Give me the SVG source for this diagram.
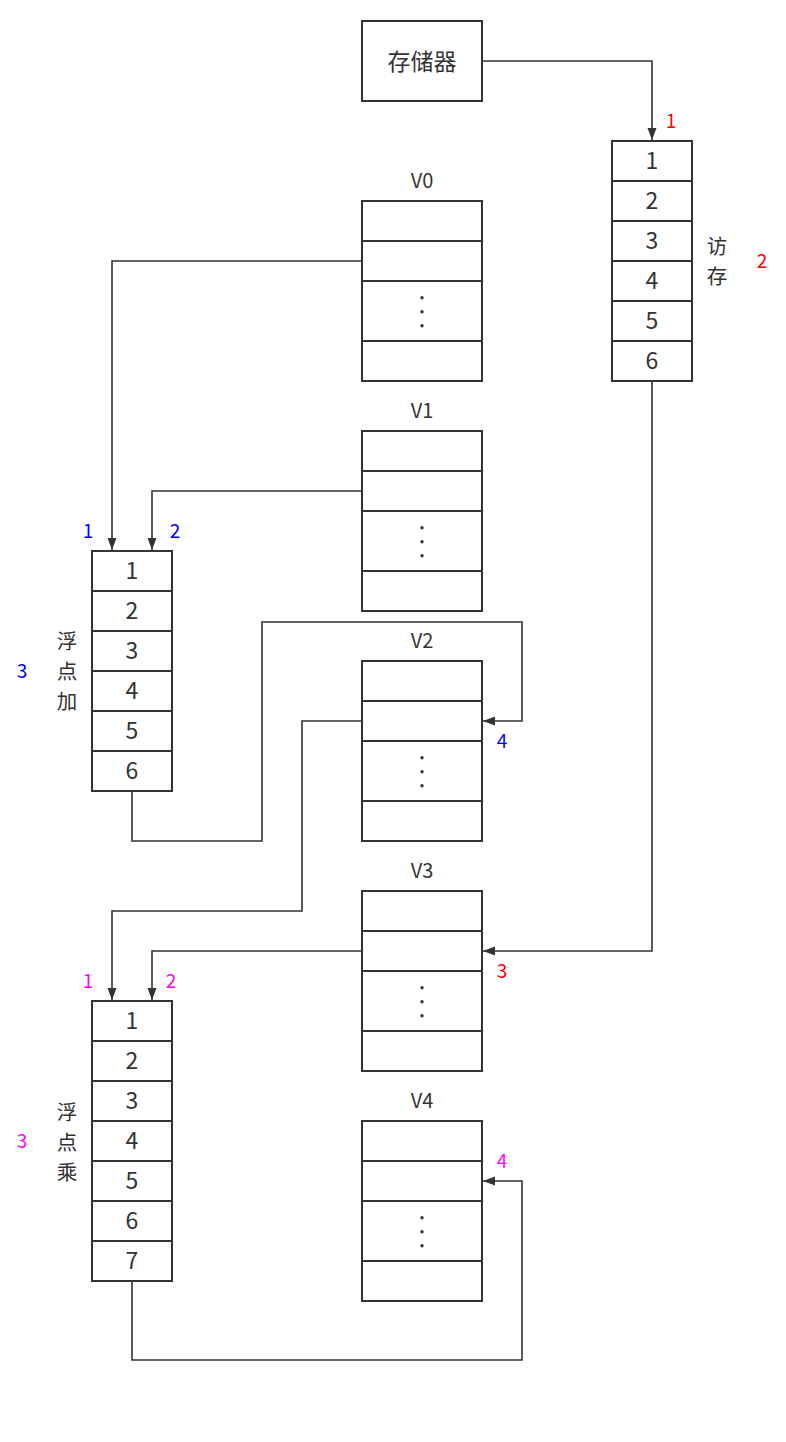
<svg xmlns="http://www.w3.org/2000/svg" width="786" height="1442" viewBox="0 0 786 1442">
<style>
.b{fill:#fff;stroke:#333;stroke-width:2}
.l{fill:none;stroke:#333;stroke-width:2}
.c{fill:none;stroke:#333;stroke-width:1.6}
.t{font-family:"Noto Sans CJK SC","Liberation Sans",sans-serif;fill:#333;text-anchor:middle}
.n{font-size:23px}
.k{font-size:20.5px}
.v{font-size:20px}
.s{font-size:19px}
.r{fill:#ff0000}
.bl{fill:#0000ff}
.m{fill:#ff00ff}
.d{fill:#333}
</style>
<defs>
<marker id="a" viewBox="0 0 12 10" refX="12" refY="5" markerWidth="12" markerHeight="10" markerUnits="userSpaceOnUse" orient="auto"><path d="M0,0.5 L12,5 L0,9.5 Z" fill="#333"/></marker>
</defs>
<g id="connectors">
<polyline class="c" points="482,61 652,61 652,140" marker-end="url(#a)"/>
<polyline class="c" points="362,261 112,261 112,550" marker-end="url(#a)"/>
<polyline class="c" points="362,491 152,491 152,550" marker-end="url(#a)"/>
<polyline class="c" points="132,791 132,841 262,841 262,622 522,622 522,721 483,721" marker-end="url(#a)"/>
<polyline class="c" points="362,721 302,721 302,911 112,911 112,1000" marker-end="url(#a)"/>
<polyline class="c" points="362,951 152,951 152,1000" marker-end="url(#a)"/>
<polyline class="c" points="652,381 652,951 483,951" marker-end="url(#a)"/>
<polyline class="c" points="132,1281 132,1360 522,1360 522,1181 483,1181" marker-end="url(#a)"/>
</g>
<g id="memory">
<rect class="b" x="362" y="21" width="120" height="80"/>
<text class="t n" x="422" y="70">存储器</text>
</g>
<g id="mem-pipe">
<rect class="b" x="612" y="141" width="80" height="240"/>
<path class="l" d="M612,181H692M612,221H692M612,261H692M612,301H692M612,341H692"/>
<text class="t n" x="652" y="169">1</text>
<text class="t n" x="652" y="209">2</text>
<text class="t n" x="652" y="249">3</text>
<text class="t n" x="652" y="289">4</text>
<text class="t n" x="652" y="329">5</text>
<text class="t n" x="652" y="369">6</text>
<text class="t k"><tspan x="717" y="254">访</tspan><tspan x="717" y="284">存</tspan></text>
</g>
<g id="V0">
<text class="t v" x="422" y="188">V0</text>
<rect class="b" x="362" y="201" width="120" height="180"/>
<path class="l" d="M362,241H482M362,281H482M362,341H482"/>
<circle class="d" cx="422" cy="297.7" r="1.7"/><circle class="d" cx="422" cy="311.7" r="1.7"/><circle class="d" cx="422" cy="325.7" r="1.7"/>
</g>
<g id="V1">
<text class="t v" x="422" y="418">V1</text>
<rect class="b" x="362" y="431" width="120" height="180"/>
<path class="l" d="M362,471H482M362,511H482M362,571H482"/>
<circle class="d" cx="422" cy="527.7" r="1.7"/><circle class="d" cx="422" cy="541.7" r="1.7"/><circle class="d" cx="422" cy="555.7" r="1.7"/>
</g>
<g id="V2">
<text class="t v" x="422" y="648">V2</text>
<rect class="b" x="362" y="661" width="120" height="180"/>
<path class="l" d="M362,701H482M362,741H482M362,801H482"/>
<circle class="d" cx="422" cy="757.7" r="1.7"/><circle class="d" cx="422" cy="771.7" r="1.7"/><circle class="d" cx="422" cy="785.7" r="1.7"/>
</g>
<g id="V3">
<text class="t v" x="422" y="878">V3</text>
<rect class="b" x="362" y="891" width="120" height="180"/>
<path class="l" d="M362,931H482M362,971H482M362,1031H482"/>
<circle class="d" cx="422" cy="987.7" r="1.7"/><circle class="d" cx="422" cy="1001.7" r="1.7"/><circle class="d" cx="422" cy="1015.7" r="1.7"/>
</g>
<g id="V4">
<text class="t v" x="422" y="1108">V4</text>
<rect class="b" x="362" y="1121" width="120" height="180"/>
<path class="l" d="M362,1161H482M362,1201H482M362,1261H482"/>
<circle class="d" cx="422" cy="1217.7" r="1.7"/><circle class="d" cx="422" cy="1231.7" r="1.7"/><circle class="d" cx="422" cy="1245.7" r="1.7"/>
</g>
<g id="fadd">
<rect class="b" x="92" y="551" width="80" height="240"/>
<path class="l" d="M92,591H172M92,631H172M92,671H172M92,711H172M92,751H172"/>
<text class="t n" x="132" y="579">1</text>
<text class="t n" x="132" y="619">2</text>
<text class="t n" x="132" y="659">3</text>
<text class="t n" x="132" y="699">4</text>
<text class="t n" x="132" y="739">5</text>
<text class="t n" x="132" y="779">6</text>
<text class="t k"><tspan x="67" y="649">浮</tspan><tspan x="67" y="679">点</tspan><tspan x="67" y="709">加</tspan></text>
</g>
<g id="fmul">
<rect class="b" x="92" y="1001" width="80" height="280"/>
<path class="l" d="M92,1041H172M92,1081H172M92,1121H172M92,1161H172M92,1201H172M92,1241H172"/>
<text class="t n" x="132" y="1029">1</text>
<text class="t n" x="132" y="1069">2</text>
<text class="t n" x="132" y="1109">3</text>
<text class="t n" x="132" y="1149">4</text>
<text class="t n" x="132" y="1189">5</text>
<text class="t n" x="132" y="1229">6</text>
<text class="t n" x="132" y="1269">7</text>
<text class="t k"><tspan x="67" y="1120">浮</tspan><tspan x="67" y="1150">点</tspan><tspan x="67" y="1180">乘</tspan></text>
</g>
<g id="labels">
<text class="t s r" x="671" y="128">1</text>
<text class="t s r" x="762" y="268">2</text>
<text class="t s r" x="502" y="978">3</text>
<text class="t s bl" x="88" y="538">1</text>
<text class="t s bl" x="175" y="538">2</text>
<text class="t s bl" x="22" y="678">3</text>
<text class="t s bl" x="502" y="748">4</text>
<text class="t s m" x="88" y="988">1</text>
<text class="t s m" x="171" y="988">2</text>
<text class="t s m" x="22" y="1148">3</text>
<text class="t s m" x="502" y="1168">4</text>
</g>
</svg>
